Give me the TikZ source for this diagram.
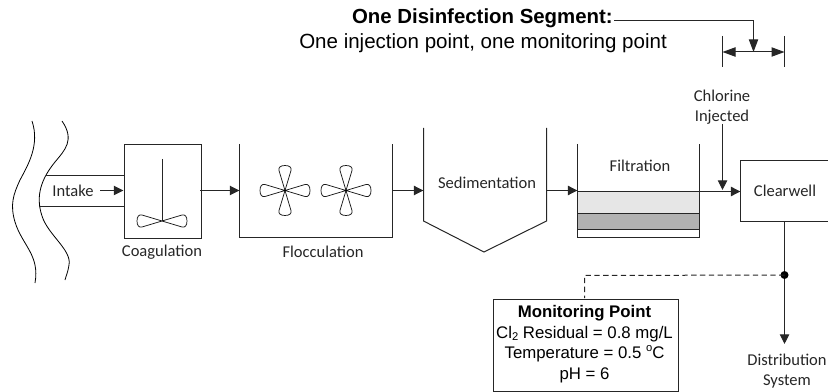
\documentclass[tikz,border=0pt]{standalone}
\usepackage{fontspec}
\setmainfont{Liberation Sans}
\newfontfamily\carl{Carlito}
\usetikzlibrary{arrows.meta}
\definecolor{fillA}{RGB}{230,230,230}
\definecolor{fillB}{RGB}{178,178,178}
\tikzset{
  ln/.style={line width=0.75pt,black!85},
  flow/.style={ln,-{Triangle[length=7.2pt,width=7pt]}},
  bigtip/.style={ln,-{Triangle[length=9.5pt,width=7pt]}},
  both/.style={ln,{Triangle[length=9.75pt,width=7pt]}-{Triangle[length=9.75pt,width=7pt]}},
  lbl/.style={font=\carl\fontsize{12.4pt}{15pt}\selectfont,inner sep=0pt,align=center,text=black!85},
  arial/.style={inner sep=0pt,align=center,text=black},
  tank/.style={ln,draw,fill=none,inner sep=0pt},
  petal/.style={line width=0.55pt,black!90}
}
\newcommand{\petalat}[4]{% x y angle length
  \draw[petal,shift={(#1,#2)},rotate=#3] (0,0) -- (#4-5,-6) .. controls (#4-2,-6.8) and (#4,-4.5) .. (#4,0) .. controls (#4,4.5) and (#4-2,6.8) .. (#4-5,6) -- cycle;
}
\begin{document}
\begin{tikzpicture}[x=0.75pt,y=-0.75pt]
\useasboundingbox (0,0) rectangle (828,392);
% water
\draw[line width=0.6pt] (32,121) .. controls (40,145) and (28,165) .. (20,180) .. controls (13,195) and (10,205) .. (15,222) .. controls (22,245) and (40,255) .. (35,283);
\draw[line width=0.6pt] (62,121) .. controls (75,140) and (65,150) .. (55,162) .. controls (42,178) and (35,195) .. (42,216) .. controls (48,235) and (72,250) .. (69,265) .. controls (68,272) and (66,276) .. (65,280);
% coagulation
\node[tank,anchor=north west,minimum width=57.75pt,minimum height=69.75pt] (coag) at (123.5,144.5) {};
\coordinate (pipeA) at (46,175.5); \coordinate (pipeB) at (39,206.5);
\draw[ln] (pipeA) -- (pipeA -| coag.west);
\draw[ln] (pipeB) -- (pipeB -| coag.west);
\node[lbl,anchor=center] (intake) at (73,190.5) {Intake};
\coordinate (iStart) at (100,190.5);
\draw[flow] (iStart) -- (iStart -| coag.west);
\node[lbl] (coaglabel) at (162,252) {Coagulation};
\coordinate (mix) at (162,221);
\coordinate (mixtop) at (162,159);
\draw[ln] (mixtop) -- (mix);
\petalat{162}{221}{0}{25}
\petalat{162}{221}{180}{25}
% flocculation
\coordinate (fNW) at (239.5,144); \coordinate (fSW) at (239.5,237); \coordinate (fSE) at (392.5,237); \coordinate (fNE) at (392.5,144);
\draw[ln] (fNW) |- (fSE) -- (fNE);
\node[lbl] (floclabel) at (323,252) {Flocculation};
\foreach \cx in {285,346}{
 \foreach \a in {0,90,180,270}{ \petalat{\cx}{190.5}{\a}{25} }
 \fill (\cx,190.5) circle (1.2);
}
% sedimentation
\coordinate (sNW) at (423.5,128); \coordinate (sNE) at (546.5,128);
\draw[ln] (sNW) -- (423.5,221) -- (484,252) -- (546.5,221) -- (sNE);
\node[lbl] (sedlabel) at (487,183) {Sedimentation};
% filtration
\fill[fillA] (577,191) rectangle (699,213);
\fill[fillB] (577,213) rectangle (699,229);
\draw[ln] (577.5,144) coordinate (flNW) -- (577.5,237.5) -- (699.5,237.5) -- (699.5,144) coordinate (flNE);
\draw[ln] (577,191.5) -- (699,191.5);
\draw[ln] (577,213.5) -- (699,213.5);
\draw[ln,line width=1pt] (577,229.5) -- (699,229.5);
\node[lbl] (fillabel) at (640,166) {Filtration};
% clearwell
\draw[ln] (828,160.5) -- (740.5,160.5) -- (740.5,221.5) -- (828,221.5);
\coordinate (cwW) at (740.5,191.5);
\coordinate (cwS) at (784.5,221.5);
\node[lbl] (cwlabel) at (785,190.5) {Clearwell};
% flow arrows
\coordinate (a1) at (200,190.5); \coordinate (a2) at (239.5,190.5);
\draw[flow] (a1) -- (a2);
\coordinate (b1) at (392.5,190.5); \coordinate (b2) at (423.5,190.5);
\draw[flow] (b1) -- (b2);
\coordinate (c1) at (546.5,190.5); \coordinate (c2) at (577.5,190.5);
\draw[flow] (c1) -- (c2);
\coordinate (d1) at (699,191.5);
\draw[flow] (d1) -- (cwW);
% chlorine
\node[lbl] (chl) at (722,107) {Chlorine\\Injected};
\coordinate (chlS) at (722.5,124);
\coordinate (chlE) at (722.5,190);
\draw[flow] (chlS) -- (chlE);
% segment
\node[arial,anchor=east,font=\fontsize{15.3pt}{18pt}\selectfont\bfseries] (seg) at (613,18) {One Disinfection Segment:};
\node[arial,anchor=west,font=\fontsize{15.4pt}{18pt}\selectfont] (seg2) at (299,43) {One injection point, one monitoring point};
\coordinate (bkL) at (722.5,52); \coordinate (bkR) at (784.5,52); \coordinate (bkM) at (753.5,52);
\draw[ln] (722.5,36) -- (722.5,67);
\draw[ln] (784.5,36) -- (784.5,67);
\draw[both] (bkL) -- (bkR);
\coordinate (sgS) at (614,20.5);
\draw[bigtip] (sgS) -| (bkM);
% distribution
\coordinate (dot) at (784.5,275);
\coordinate (distEnd) at (784.5,344);
\draw[flow] (cwS) -- (distEnd);
\fill (dot) circle (4);
\node[lbl] (dist) at (787,371) {Distribution\\System};
% monitoring
\node[draw,line width=0.75pt,black!85,anchor=north west,minimum width=138.75pt,minimum height=69pt,inner sep=0pt] (mon) at (492.5,298.5) {};
\node[arial,font=\fontsize{12.6pt}{15.4pt}\selectfont] (montext) at (584.5,344) {\textbf{Monitoring Point}\\Cl\raisebox{-0.25ex}{\fontsize{8.4pt}{8pt}\selectfont 2} Residual = 0.8 mg/L\\Temperature = 0.5 \raisebox{0.75ex}{\fontsize{8.4pt}{8pt}\selectfont o}C\\pH = 6};
\draw[ln,dash pattern=on 4pt off 2.6pt] (dot) -- (584.5,275.5) -- (584.5,298);
\end{tikzpicture}
\end{document}
